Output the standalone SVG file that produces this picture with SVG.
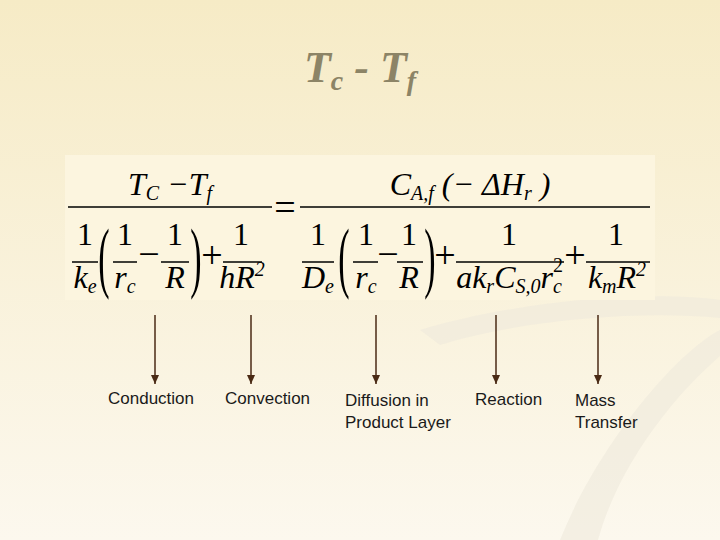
<svg xmlns="http://www.w3.org/2000/svg" width="720" height="540" viewBox="0 0 720 540">
<defs>
<linearGradient id="bg" x1="0" y1="0" x2="0" y2="1"><stop offset="0" stop-color="#F6EBC6"/><stop offset="1" stop-color="#FCF8EE"/></linearGradient>
<marker id="ah" markerWidth="10" markerHeight="10" refX="9" refY="5" orient="auto" markerUnits="userSpaceOnUse"><path d="M0,1 L9,5 L0,9 z" fill="#4a2a14"/></marker>
<style>
.m{font-family:"Liberation Serif",serif;font-style:italic;font-size:32px;fill:#000}
.n{font-family:"Liberation Serif",serif;font-size:32px;fill:#000}
.o{font-family:"Liberation Serif",serif;font-size:38px;fill:#000}
.s{font-size:20px}
.p{font-family:"Liberation Serif",serif;font-size:34px;fill:#000}
.fl{stroke:#000;stroke-width:1.5}
.lab{font-family:"Liberation Sans",sans-serif;font-size:17px;fill:#1a1a1a}
.ar{stroke:#4a2a14;stroke-width:1.5;marker-end:url(#ah)}
</style>
</defs>
<rect width="720" height="540" fill="url(#bg)"/>
<path d="M420,330 C520,300 650,290 720,300 L720,318 C640,310 520,320 440,345 Z" fill="#EFE9DC" opacity="0.6"/>
<path d="M560,540 C600,440 680,350 720,330 L720,356 C680,390 620,460 598,540 Z" fill="#EFE9DC" opacity="0.6"/>
<g id="title"><text x="360" y="82" text-anchor="middle" font-family="Liberation Serif,serif" font-style="italic" font-weight="bold" font-size="44" fill="#8C8466">T<tspan font-size="28" dy="8">c</tspan><tspan dy="-8"> - T</tspan><tspan font-size="28" dy="8">f</tspan></text></g>
<g id="equation">
<rect x="65" y="155" width="590" height="145" fill="#FCF5DF"/>
<text class="m" x="170" y="195" text-anchor="middle">T<tspan class="s" dy="5">C</tspan><tspan class="n" dy="-5"> −</tspan>T<tspan class="s" dy="5">f</tspan></text>
<line class="fl" x1="68" y1="207" x2="272" y2="207"/>
<text class="o" x="285" y="220" text-anchor="middle">=</text>
<line class="fl" x1="300" y1="207" x2="650" y2="207"/>
<text class="m" x="470" y="195" text-anchor="middle">C<tspan class="s" dy="5">A,f</tspan><tspan class="n" dy="-5"> (− </tspan>ΔH<tspan class="s" dy="5">r</tspan><tspan class="n" dy="-5"> )</tspan></text>
<text class="n" x="85" y="245" text-anchor="middle">1</text><line class="fl" x1="72" y1="262" x2="98" y2="262"/><text class="m" x="85" y="288" text-anchor="middle">k<tspan class="s" dy="5">e</tspan></text>
<text class="p" text-anchor="middle" transform="translate(104,283) scale(1,2.3)">(</text>
<text class="n" x="125" y="245" text-anchor="middle">1</text><line class="fl" x1="113" y1="262" x2="137" y2="262"/><text class="m" x="125" y="288" text-anchor="middle">r<tspan class="s" dy="5">c</tspan></text>
<text class="o" x="149" y="267" text-anchor="middle">−</text>
<text class="n" x="175" y="245" text-anchor="middle">1</text><line class="fl" x1="161" y1="262" x2="189" y2="262"/><text class="m" x="175" y="288" text-anchor="middle">R</text>
<text class="p" text-anchor="middle" transform="translate(196,283) scale(1,2.3)">)</text>
<text class="o" x="212" y="268" text-anchor="middle">+</text>
<text class="n" x="241" y="245" text-anchor="middle">1</text><line class="fl" x1="223" y1="262" x2="262" y2="262"/><text class="m" x="242" y="288" text-anchor="middle">hR<tspan class="s" dy="-12">2</tspan></text>
<text class="n" x="318" y="245" text-anchor="middle">1</text><line class="fl" x1="302" y1="262" x2="334" y2="262"/><text class="m" x="318" y="288" text-anchor="middle">D<tspan class="s" dy="5">e</tspan></text>
<text class="p" text-anchor="middle" transform="translate(344,283) scale(1,2.3)">(</text>
<text class="n" x="366" y="245" text-anchor="middle">1</text><line class="fl" x1="353" y1="262" x2="378" y2="262"/><text class="m" x="366" y="288" text-anchor="middle">r<tspan class="s" dy="5">c</tspan></text>
<text class="o" x="388" y="267" text-anchor="middle">−</text>
<text class="n" x="409" y="245" text-anchor="middle">1</text><line class="fl" x1="397" y1="262" x2="423" y2="262"/><text class="m" x="409" y="288" text-anchor="middle">R</text>
<text class="p" text-anchor="middle" transform="translate(430,283) scale(1,2.3)">)</text>
<text class="o" x="445" y="268" text-anchor="middle">+</text>
<text class="n" x="509" y="245" text-anchor="middle">1</text><line class="fl" x1="456" y1="262" x2="564" y2="262"/><text class="m" x="509" y="288" text-anchor="middle">ak<tspan class="s" dy="5">r</tspan><tspan dy="-5">C</tspan><tspan class="s" dy="5">S,0</tspan><tspan dy="-5">r</tspan><tspan class="s" dy="5">c</tspan></text>
<text class="n s" x="553" y="272">2</text>
<text class="o" x="575" y="268" text-anchor="middle">+</text>
<text class="n" x="616" y="245" text-anchor="middle">1</text><line class="fl" x1="586" y1="262" x2="650" y2="262"/><text class="m" x="617" y="288" text-anchor="middle">k<tspan class="s" dy="5">m</tspan><tspan dy="-5">R</tspan><tspan class="s" dy="-12">2</tspan></text>
</g>
<g id="connectors">
<line class="ar" x1="155" y1="315" x2="155" y2="384"/>
<line class="ar" x1="251" y1="315" x2="251" y2="384"/>
<line class="ar" x1="376" y1="315" x2="376" y2="384"/>
<line class="ar" x1="496" y1="315" x2="496" y2="384"/>
<line class="ar" x1="598" y1="315" x2="598" y2="384"/>
</g>
<g id="conduction"><text class="lab" x="108" y="404">Conduction</text></g>
<g id="convection"><text class="lab" x="225" y="404">Convection</text></g>
<g id="diffusion"><text class="lab" x="345" y="406">Diffusion in</text><text class="lab" x="345" y="428">Product Layer</text></g>
<g id="reaction"><text class="lab" x="475" y="405">Reaction</text></g>
<g id="mass"><text class="lab" x="575" y="406">Mass</text><text class="lab" x="575" y="428">Transfer</text></g>
</svg>
